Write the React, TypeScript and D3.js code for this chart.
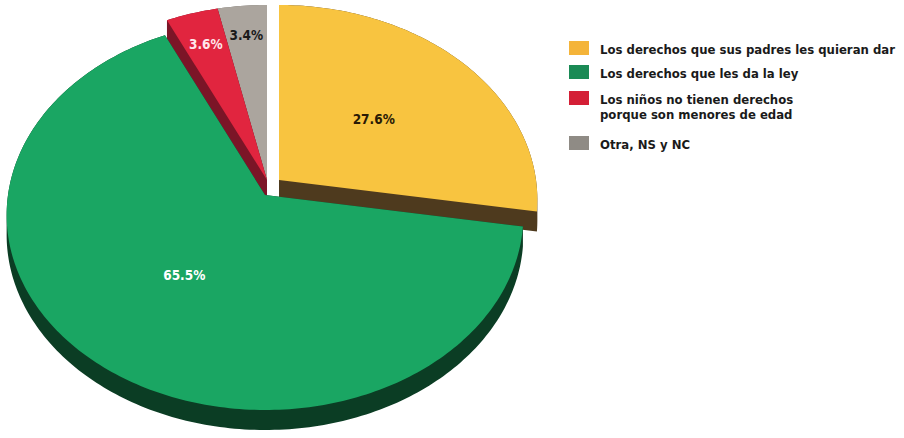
import React from 'react';
import * as d3 from 'd3';

// data
const CATEGORIES = [
  'Los derechos que sus padres les quieran dar',
  'Los derechos que les da la ley',
  'Los niños no tienen derechos porque son menores de edad',
  'Otra, NS y NC',
];
const LEGEND_LINES = [
  ['Los derechos que sus padres les quieran dar'],
  ['Los derechos que les da la ley'],
  ['Los niños no tienen derechos', 'porque son menores de edad'],
  ['Otra, NS y NC'],
];
const VALUES = [27.6, 65.5, 3.6, 3.4];
const LABELS = ['27.6%', '65.5%', '3.6%', '3.4%'];

// styles
const TOP_COLORS = ['#f8c440', '#1aa663', '#e1253f', '#aba59e'];
const SIDE_COLORS = ['#4e3a1e', '#0b3d24', '#7b1527', '#76716b'];
const LEGEND_COLORS = ['#f4b43a', '#1a8a55', '#d41f36', '#8f8b85'];
const LABEL_COLORS = ['#2a1a05', '#ffffff', '#ffe6ea', '#1a1a1a'];
const EXPLODE: [number, number][] = [[14, -15], [0, 0], [2, -15], [2, -15]];
const LABEL_R = [0.5, 0.5, 0.8, 0.82];

const W = 904;
const H = 438;
const CX = 265;
const CY = 195;
const TOP = 175; // projected radius toward the back
const BOTTOM = 215; // projected radius toward the front
const HALF = 257; // projected half width
const THICK = 20;
const K = (BOTTOM - TOP) / (BOTTOM + TOP);
const A = TOP * (1 + K);
const FONT = "'DejaVu Sans Condensed', 'DejaVu Sans', sans-serif";

const project = (u: number, w: number): [number, number] => {
  const z = 1 + K * w;
  return [CX + (HALF * u) / z, CY - (A * w) / z];
};

const closed = d3.line<[number, number]>().curve(d3.curveLinearClosed);

const oriented = (pts: [number, number][]) =>
  d3.polygonArea(pts) < 0 ? pts.slice().reverse() : pts;

const App: React.FC = () => {
  const arcs = d3.pie<number>().sort(null)(VALUES);

  const slices = arcs.map((a, i) => {
    const [ox, oy] = EXPLODE[i];
    const pts: [number, number][] = [];
    const p0 = project(0, 0);
    pts.push([p0[0] + ox, p0[1] + oy]);
    const steps = Math.max(4, Math.ceil(((a.endAngle - a.startAngle) * 180) / Math.PI));
    for (let s = 0; s <= steps; s++) {
      const t = a.startAngle + ((a.endAngle - a.startAngle) * s) / steps;
      const p = project(Math.sin(t), Math.cos(t));
      pts.push([p[0] + ox, p[1] + oy]);
    }
    // extrusion: bottom face plus every edge swept downward
    const bottom = pts.map(([x, y]) => [x, y + THICK] as [number, number]);
    let wall = closed(oriented(bottom)) || '';
    for (let k = 0; k < pts.length; k++) {
      const p = pts[k];
      const q = pts[(k + 1) % pts.length];
      const quad: [number, number][] = [p, q, [q[0], q[1] + THICK], [p[0], p[1] + THICK]];
      wall += closed(oriented(quad)) || '';
    }
    const mid = (a.startAngle + a.endAngle) / 2;
    const lp = project(LABEL_R[i] * Math.sin(mid), LABEL_R[i] * Math.cos(mid));
    return {
      i,
      depth: Math.cos(mid),
      top: closed(pts) || '',
      wall,
      label: [lp[0] + ox, lp[1] + oy],
    };
  });

  const order = slices.slice().sort((a, b) => b.depth - a.depth);

  const legendTop = [41, 65, 91, 136];

  return (
    <svg
      width={W}
      height={H}
      viewBox={`0 0 ${W} ${H}`}
      style={{ position: 'absolute', left: 0, top: 0, background: '#fff' }}
    >
      <g>
        {order.map((s) => (
          <g key={CATEGORIES[s.i]}>
            <path d={s.wall} fill={SIDE_COLORS[s.i]} />
            <path d={s.top} fill={TOP_COLORS[s.i]} />
          </g>
        ))}
      </g>
      <g fontFamily={FONT} fontWeight="bold" fontSize={13.5} textAnchor="middle">
        {slices.map((s) => (
          <text
            key={LABELS[s.i]}
            x={s.label[0]}
            y={s.label[1]}
            dy="0.35em"
            fill={LABEL_COLORS[s.i]}
          >
            {LABELS[s.i]}
          </text>
        ))}
      </g>
      <g fontFamily={FONT} fontWeight="bold" fontSize={13} fill="#1a1a1a">
        {LEGEND_LINES.map((lines, i) => (
          <g key={CATEGORIES[i]}>
            <rect x={569} y={legendTop[i]} width={20} height={14} fill={LEGEND_COLORS[i]} />
            {lines.map((ln, j) => (
              <text key={ln} x={600} y={legendTop[i] + 13 + j * 15}>
                {ln}
              </text>
            ))}
          </g>
        ))}
      </g>
    </svg>
  );
};

export default App;
